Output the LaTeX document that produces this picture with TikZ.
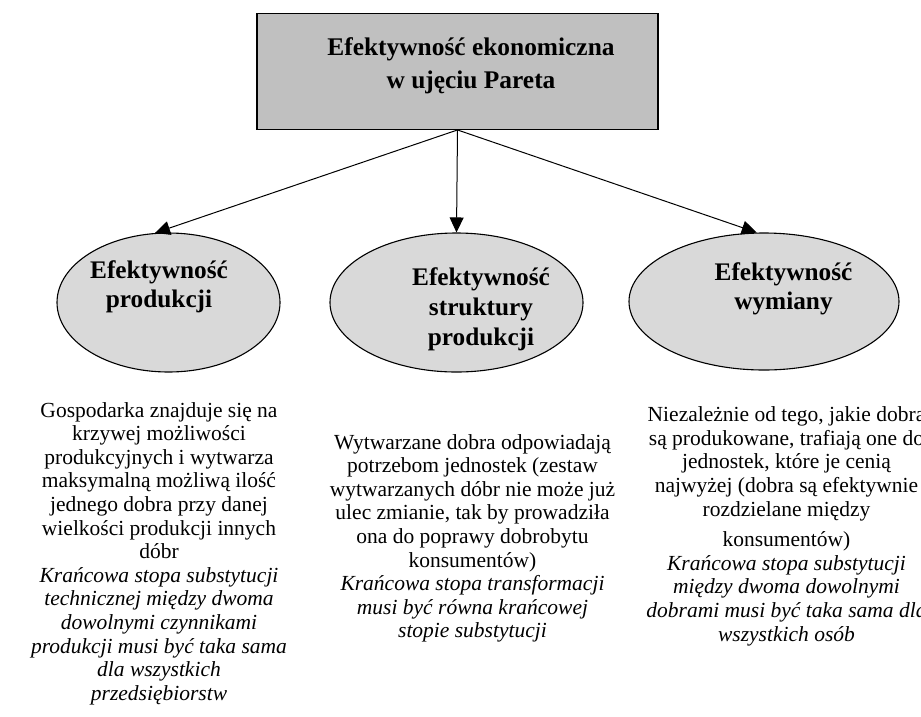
\documentclass[tikz,border=0pt]{standalone}
\usepackage{fontspec}
\setmainfont{Liberation Serif}
\usetikzlibrary{arrows.meta,shapes.geometric}
\definecolor{boxgray}{HTML}{C0C0C0}
\definecolor{ellgray}{HTML}{D9D9D9}
\tikzset{
  titlebox/.style={draw=black, line width=1.4pt, fill=boxgray, inner sep=0pt},
  ellbox/.style={ellipse, draw=black, line width=1.1pt, fill=ellgray, inner sep=0pt},
  headtext/.style={font=\fontsize{25.3}{29}\selectfont\bfseries, align=center, anchor=north, inner sep=0pt},
  bodytext/.style={font=\fontsize{21.5}{23.6}\selectfont, align=center, anchor=north, inner sep=0pt},
  conn/.style={line width=1pt, -{Triangle[length=15pt,width=14pt]}}
}
\begin{document}
\begin{tikzpicture}[x=1pt,y=-1pt]
\useasboundingbox (0,0) rectangle (921,716);
% top box
\node[titlebox, minimum width=401pt, minimum height=115.5pt] (top) at (457.5,71.5) {};
\node[font=\fontsize{25.4}{33}\selectfont\bfseries, align=center, anchor=north, inner sep=0pt] (title) at (471,37) {Efektywność ekonomiczna\\w ujęciu Pareta};
% ellipses
\node[ellbox, minimum width=223pt, minimum height=139pt] (e1) at (168.5,302.5) {};
\node[ellbox, minimum width=253pt, minimum height=139pt] (e2) at (456.5,302.5) {};
\node[ellbox, minimum width=270pt, minimum height=137pt] (e3) at (764,301.5) {};
\node[headtext] (t1) at (159,260.5) {Efektywność\\produkcji};
\node[headtext, font=\fontsize{25.3}{30}\selectfont\bfseries] (t2) at (481,267) {Efektywność\\struktury\\produkcji};
\node[headtext] (t3) at (783.5,262.5) {Efektywność\\wymiany};
% connectors
\draw[conn] (top.south) -- (e1.101);
\draw[conn] (top.south) -- (e2.north);
\draw[conn] (top.south) -- (e3.96);
% descriptions
\node[bodytext] (d1) at (159,402) {Gospodarka znajduje się na\\krzywej możliwości\\produkcyjnych i wytwarza\\maksymalną możliwą ilość\\jednego dobra przy danej\\wielkości produkcji innych\\dóbr\\\itshape Krańcowa stopa substytucji\\\itshape technicznej między dwoma\\\itshape dowolnymi czynnikami\\\itshape produkcji musi być taka sama\\\itshape dla wszystkich\\\itshape przedsiębiorstw};
\node[bodytext] (d2) at (472.5,434) {Wytwarzane dobra odpowiadają\\potrzebom jednostek (zestaw\\wytwarzanych dóbr nie może już\\ulec zmianie, tak by prowadziła\\ona do poprawy dobrobytu\\konsumentów)\\\itshape Krańcowa stopa transformacji\\\itshape musi być równa krańcowej\\\itshape stopie substytucji};
\node[bodytext] (d3) at (786.5,406.5) {Niezależnie od tego, jakie dobra\\są produkowane, trafiają one do\\jednostek, które je cenią\\najwyżej (dobra są efektywnie\\rozdzielane między\\[7pt]konsumentów)\\\itshape Krańcowa stopa substytucji\\\itshape między dwoma dowolnymi\\\itshape dobrami musi być taka sama dla\\\itshape wszystkich osób};
\end{tikzpicture}
\end{document}
